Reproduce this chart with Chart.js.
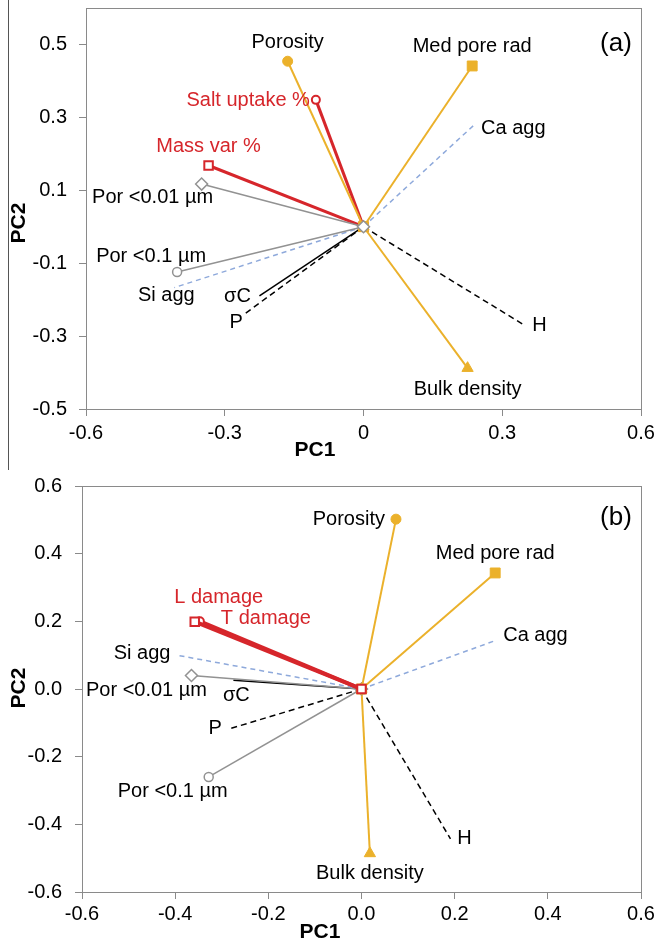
<!DOCTYPE html>
<html>
<head>
<meta charset="utf-8">
<script src="https://cdn.jsdelivr.net/npm/chart.js@4.4.1/dist/chart.umd.min.js"></script>
<style>
    html, body { margin: 0; padding: 0; background: #fff; }
    #wrap { position: relative; width: 656px; height: 943px; }
    canvas { position: absolute; left: 0; }
    #chartA { top: 0; }
    #chartB { top: 470px; }
</style>
</head>
<body>
<div id="wrap">
    <canvas id="chartA" width="656" height="470"></canvas>
    <canvas id="chartB" width="656" height="473"></canvas>
</div>
<script>
// panel (a) loadings
const varsA = ['Por <0.01 µm', 'Porosity', 'Med pore rad', 'Salt uptake %', 'Ca agg', 'Mass var %',
    'Por <0.1 µm', 'Si agg', 'σC', 'P', 'H', 'Bulk density'];
const pc1A = [-0.350, -0.164, 0.235, -0.103, 0.239, -0.335, -0.403, -0.409, -0.225, -0.260, 0.348, 0.225];
const pc2A = [0.117, 0.454, 0.441, 0.348, 0.279, 0.168, -0.124, -0.167, -0.190, -0.242, -0.270, -0.388];

// panel (b) loadings
const varsB = ['L damage', 'T damage', 'Porosity', 'Med pore rad', 'Ca agg', 'Si agg', 'Por <0.01 µm',
    'σC', 'P', 'Por <0.1 µm', 'H', 'Bulk density'];
const pc1B = [-0.358, -0.347, 0.074, 0.287, 0.287, -0.393, -0.365, -0.275, -0.284, -0.328, 0.191, 0.018];
const pc2B = [0.199, 0.200, 0.502, 0.343, 0.143, 0.099, 0.040, 0.026, -0.118, -0.260, -0.443, -0.486];

const xTicksA = [-0.6, -0.3, 0, 0.3, 0.6];
const yTicksA = [-0.5, -0.3, -0.1, 0.1, 0.3, 0.5];
const xTicksB = [-0.6, -0.4, -0.2, 0, 0.2, 0.4, 0.6];
const yTicksB = [-0.6, -0.4, -0.2, 0, 0.2, 0.4, 0.6];

const FONT = 'Liberation Sans, Arial, sans-serif';
const GOLD = '#EBB12B';
const RED = '#D6262B';
const GREY = '#929292';
const BLUE = '#8EA9DB';
const AXIS = '#8a8a8a';

// line / marker look of each variable
const styles = {
    'Porosity': {color: GOLD, width: 2, marker: 'circle', r: 5, filled: true},
    'Med pore rad': {color: GOLD, width: 2, marker: 'rect', r: 7, filled: true},
    'Bulk density': {color: GOLD, width: 2, marker: 'triangle', r: 6.5, filled: true},
    'Salt uptake %': {color: RED, width: 3, marker: 'circle', r: 4, red: true},
    'T damage': {color: RED, width: 4, marker: 'circle', r: 4, red: true},
    'Mass var %': {color: RED, width: 3, marker: 'rect', r: 6, red: true},
    'L damage': {color: RED, width: 4, marker: 'rect', r: 6, red: true},
    'Por <0.01 µm': {color: GREY, width: 1.5, marker: 'rectRot', r: 6},
    'Por <0.1 µm': {color: GREY, width: 1.5, marker: 'circle', r: 4.5},
    'Ca agg': {color: BLUE, width: 1.5, dash: [5, 4]},
    'Si agg': {color: BLUE, width: 1.5, dash: [5, 4]},
    'σC': {color: '#000', width: 1.5},
    'P': {color: '#000', width: 1.5, dash: [6, 4]},
    'H': {color: '#000', width: 1.5, dash: [6, 4]}
};

// label placement relative to the end point, in pixels
const labelPosA = {
    'Porosity': [0, -19, 'center'],
    'Med pore rad': [0, -19, 'center'],
    'Salt uptake %': [-6, 1, 'right'],
    'Ca agg': [7, 3, 'left'],
    'Mass var %': [0, -19, 'center'],
    'Por <0.01 µm': [-49, 13, 'center'],
    'Por <0.1 µm': [-26, -15, 'center'],
    'Si agg': [-8, 8, 'center'],
    'σC': [-22, 0, 'center'],
    'P': [-7, 8, 'center'],
    'H': [15, 0, 'center'],
    'Bulk density': [0, 21, 'center']
};
const labelPosB = {
    'Porosity': [-11, 0, 'right'],
    'Med pore rad': [0, -19, 'center'],
    'Ca agg': [8, -5, 'left'],
    'L damage': [24, -24, 'center'],
    'T damage': [21, -3, 'left'],
    'Si agg': [-8, -2, 'right'],
    'Por <0.01 µm': [-45, 15, 'center'],
    'σC': [3, 15, 'center'],
    'P': [-14, 0, 'center'],
    'Por <0.1 µm': [-36, 15, 'center'],
    'H': [14, 0, 'center'],
    'Bulk density': [0, 20, 'center']
};

function makeDatasets(names, pc1, pc2) {
    return names.map((n, i) => {
        const s = styles[n];
        const r = s.marker ? s.r : 0;
        return {
            label: n,
            data: [{x: 0, y: 0}, {x: pc1[i], y: pc2[i]}],
            showLine: true,
            borderColor: s.color,
            borderWidth: s.width,
            borderDash: s.dash || [],
            pointStyle: s.marker || 'circle',
            pointRadius: r,
            pointBackgroundColor: s.filled ? s.color : '#fff',
            pointBorderColor: s.color,
            pointBorderWidth: s.filled ? 1 : (s.red ? 2 : 1.5),
            order: i
        };
    });
}

function renderPanel(id, cfg) {
    const canvas = document.getElementById(id);
    const W = canvas.width, H = canvas.height;
    const a = cfg.area;

    const decor = {
        id: 'decor',
        afterDraw(chart) {
            const ctx = chart.ctx;
            const xs = chart.scales.x, ys = chart.scales.y;
            const ca = chart.chartArea;
            ctx.save();
            ctx.strokeStyle = AXIS;
            ctx.lineWidth = 1;
            ctx.strokeRect(Math.round(ca.left) + 0.5, Math.round(ca.top) + 0.5,
                Math.round(ca.right - ca.left), Math.round(ca.bottom - ca.top));
            if (cfg.sideLine) {
                ctx.strokeStyle = '#555';
                ctx.beginPath();
                ctx.moveTo(8.5, 0);
                ctx.lineTo(8.5, H);
                ctx.stroke();
            }

            ctx.font = '20px ' + FONT;
            ctx.textBaseline = 'middle';
            cfg.names.forEach((n, i) => {
                const p = cfg.labels[n];
                ctx.fillStyle = styles[n].red ? RED : '#000';
                ctx.textAlign = p[2];
                ctx.fillText(n, xs.getPixelForValue(cfg.pc1[i]) + p[0], ys.getPixelForValue(cfg.pc2[i]) + p[1]);
            });

            ctx.fillStyle = '#000';
            ctx.textAlign = 'center';
            ctx.font = '26px ' + FONT;
            ctx.fillText(cfg.tag, cfg.tagPos[0], cfg.tagPos[1]);

            ctx.font = 'bold 21px ' + FONT;
            ctx.fillText('PC1', cfg.pc1Title[0], cfg.pc1Title[1]);
            ctx.translate(cfg.pc2Title[0], cfg.pc2Title[1]);
            ctx.rotate(-Math.PI / 2);
            ctx.fillText('PC2', 0, 0);
            ctx.restore();
        }
    };

    return new Chart(canvas, {
        type: 'scatter',
        data: {datasets: makeDatasets(cfg.names, cfg.pc1, cfg.pc2)},
        options: {
            responsive: false,
            animation: false,
            devicePixelRatio: 1,
            layout: {padding: {left: 0, top: a.top, right: W - a.right, bottom: 0}},
            plugins: {legend: {display: false}, tooltip: {enabled: false}},
            scales: {
                x: {
                    type: 'linear',
                    min: -0.6,
                    max: 0.6,
                    afterBuildTicks: s => { s.ticks = cfg.xTicks.map(v => ({value: v})); },
                    afterFit: s => {
                        s.height = H - a.bottom;
                        s.paddingLeft = 0;
                        s.paddingRight = 0;
                    },
                    grid: {drawOnChartArea: false, drawTicks: true, tickLength: 7, color: AXIS},
                    border: {display: true, color: AXIS},
                    ticks: {
                        font: {family: FONT, size: 20},
                        color: '#000',
                        padding: cfg.xPad,
                        maxRotation: 0,
                        autoSkip: false,
                        callback: cfg.fmtX
                    }
                },
                y: {
                    type: 'linear',
                    min: cfg.yMin,
                    max: 0.6,
                    afterBuildTicks: s => { s.ticks = cfg.yTicks.map(v => ({value: v})); },
                    afterFit: s => {
                        s.width = a.left;
                        s.paddingTop = 0;
                        s.paddingBottom = 0;
                    },
                    grid: {drawOnChartArea: false, drawTicks: true, tickLength: 7, color: AXIS},
                    border: {display: true, color: AXIS},
                    ticks: {
                        font: {family: FONT, size: 20},
                        color: '#000',
                        padding: cfg.yPad,
                        autoSkip: false,
                        callback: cfg.fmtY
                    }
                }
            }
        },
        plugins: [decor]
    });
}

renderPanel('chartA', {
    names: varsA, pc1: pc1A, pc2: pc2A, labels: labelPosA,
    xTicks: xTicksA, yTicks: yTicksA, yMin: -0.5,
    fmtX: v => v === 0 ? '0' : String(v),
    fmtY: v => String(v),
    area: {left: 86, right: 641, top: 7, bottom: 409},
    xPad: 5, yPad: 12,
    tag: '(a)', tagPos: [616, 44],
    pc1Title: [315, 450], pc2Title: [19, 223],
    sideLine: true
});

renderPanel('chartB', {
    names: varsB, pc1: pc1B, pc2: pc2B, labels: labelPosB,
    xTicks: xTicksB, yTicks: yTicksB, yMin: -0.6,
    fmtX: v => v.toFixed(1),
    fmtY: v => v.toFixed(1),
    area: {left: 82, right: 641, top: 16, bottom: 422},
    xPad: 3, yPad: 13,
    tag: '(b)', tagPos: [616, 48],
    pc1Title: [320, 462], pc2Title: [19, 218],
    sideLine: false
});
</script>
</body>
</html>
